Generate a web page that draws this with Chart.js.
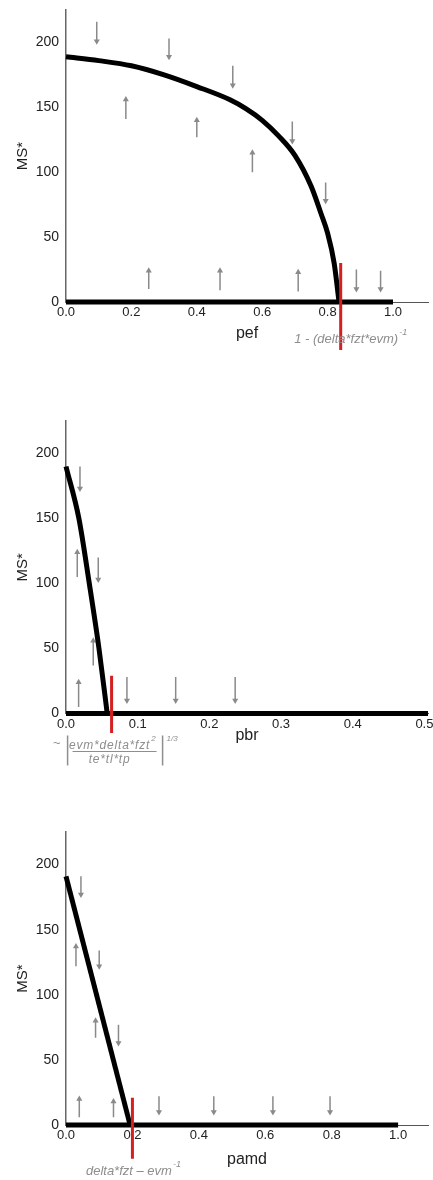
<!DOCTYPE html>
<html>
<head>
<meta charset="utf-8">
<script src="https://cdn.jsdelivr.net/npm/chart.js@4/dist/chart.umd.min.js"></script>
<style>
  body { margin: 0; background: #fff; width: 433px; height: 1180px; position: relative; overflow: hidden; }
  canvas { position: absolute; left: 0; }
</style>
</head>
<body>
<canvas id="pefChart" width="433" height="365" style="top:0"></canvas>
<canvas id="pbrChart" width="433" height="400" style="top:370px"></canvas>
<canvas id="pamdChart" width="433" height="395" style="top:785px"></canvas>
<script>
// shared y axis
var msTicks = [0, 50, 100, 150, 200];
var msMax = 225;

// pef panel
var pefTicks = [0, 0.2, 0.4, 0.6, 0.8, 1.0];
var pefCurveX = [0, 0.1, 0.2, 0.3, 0.4, 0.5, 0.55, 0.6, 0.65, 0.7, 0.75, 0.78, 0.8, 0.82, 0.835];
var pefCurveY = [189, 186, 182, 175, 166, 156, 149, 140, 128, 113, 89, 68, 53, 30, 0];
var pefZeroX = [0, 1.0];
var pefThreshold = 0.84;
var pefMarkY = [30, -37];
var pefArrowX = [0.094, 0.315, 0.51, 0.692, 0.794, 0.888, 0.962, 0.183, 0.40, 0.57, 0.253, 0.471, 0.71];
var pefArrowFrom = [216, 203, 182, 139, 92, 25, 24, 141, 127, 100, 10, 9, 8];
var pefArrowTo = [201, 189, 167, 124, 78, 10, 10, 156, 140, 115, 24, 24, 23];

// pbr panel
var pbrTicks = [0, 0.1, 0.2, 0.3, 0.4, 0.5];
var pbrCurveX = [0, 0.018, 0.0325, 0.046, 0.0575];
var pbrCurveY = [190, 150, 100, 50, 0];
var pbrZeroX = [0, 0.505];
var pbrThreshold = 0.0636;
var pbrMarkY = [29, -15];
var pbrArrowX = [0.0195, 0.0157, 0.045, 0.038, 0.0176, 0.085, 0.153, 0.236];
var pbrArrowFrom = [190, 105, 120, 37, 5, 28, 28, 28];
var pbrArrowTo = [173, 124, 103, 56, 24, 10, 10, 10];

// pamd panel
var pamdTicks = [0, 0.2, 0.4, 0.6, 0.8, 1.0];
var pamdCurveX = [0, 0.193];
var pamdCurveY = [191, 0];
var pamdZeroX = [0, 1.0];
var pamdThreshold = 0.2;
var pamdMarkY = [21, -26];
var pamdArrowX = [0.045, 0.030, 0.1, 0.089, 0.158, 0.040, 0.143, 0.28, 0.445, 0.623, 0.795];
var pamdArrowFrom = [191, 122, 134, 67, 77, 6, 6, 22, 22, 22, 22];
var pamdArrowTo = [177, 137, 122, 80, 63, 20, 18, 10, 10, 10, 10];

Chart.defaults.font.family = '"Liberation Sans", Arial, sans-serif';
Chart.defaults.color = '#222';

var GREY = '#8a8a8a';
var FORMULA = '#8e8e8e';

function toPoints(xs, ys) {
  return xs.map(function (x, i) { return {x: x, y: ys[i]}; });
}

// each arrow is tail -> head, broken off from the next by a null point
function arrowPoints(xs, from, to) {
  var pts = [];
  xs.forEach(function (x, i) {
    pts.push({x: x, y: from[i]});
    pts.push({x: x, y: to[i], head: true, rot: to[i] > from[i] ? 0 : 180});
    pts.push({x: x, y: null});
  });
  return pts;
}

function italic(ctx, size) {
  ctx.font = 'italic ' + size + 'px "Liberation Sans", Arial, sans-serif';
}

// text with a trailing superscript, centred on cx
function supText(ctx, cx, cy, main, sup) {
  italic(ctx, 13);
  var w = ctx.measureText(main).width;
  italic(ctx, 9);
  var ws = ctx.measureText(sup).width;
  var x0 = cx - (w + ws + 1) / 2;
  ctx.textAlign = 'left';
  ctx.textBaseline = 'middle';
  italic(ctx, 13);
  ctx.fillText(main, x0, cy);
  italic(ctx, 9);
  ctx.fillText(sup, x0 + w + 1, cy - 7);
}

function formulaPlugin(drawFn) {
  return {
    id: 'formula',
    afterDraw: function (chart) {
      var ctx = chart.ctx;
      var xs = chart.scales.x;
      var rx = xs.getPixelForValue(chart.options.threshold);
      ctx.save();
      ctx.fillStyle = FORMULA;
      ctx.strokeStyle = FORMULA;
      drawFn(ctx, rx);
      ctx.restore();
    }
  };
}

function panelChart(id, p) {
  var ctx = document.getElementById(id).getContext('2d');
  return new Chart(ctx, {
    type: 'scatter',
    data: {
      datasets: [
        {
          data: toPoints([p.threshold, p.threshold], p.markY),
          showLine: true, borderColor: '#d42020', borderWidth: 3,
          pointRadius: 0, clip: false
        },
        {
          data: toPoints(p.curveX, p.curveY),
          showLine: true, borderColor: '#000', borderWidth: 5,
          cubicInterpolationMode: 'monotone',
          pointRadius: 0, clip: false
        },
        {
          data: toPoints(p.zeroX, [0, 0]),
          showLine: true, borderColor: '#000', borderWidth: 5,
          pointRadius: 0, clip: false
        },
        {
          data: arrowPoints(p.arrowX, p.arrowFrom, p.arrowTo),
          showLine: true, spanGaps: false,
          borderColor: GREY, borderWidth: 1.5,
          pointStyle: 'triangle',
          pointRadius: function (c) { return c.raw && c.raw.head ? 3.5 : 0; },
          pointRotation: function (c) { return (c.raw && c.raw.rot) || 0; },
          pointBackgroundColor: GREY, pointBorderWidth: 0,
          clip: false
        }
      ]
    },
    options: {
      responsive: false,
      animation: false,
      events: [],
      devicePixelRatio: 1,
      threshold: p.threshold,
      layout: {padding: {top: p.top, right: 5, bottom: 0, left: 0}},
      plugins: {legend: {display: false}, tooltip: {enabled: false}},
      scales: {
        x: {
          type: 'linear', min: 0, max: p.xMax,
          afterBuildTicks: function (axis) {
            axis.ticks = p.xTicks.map(function (v) { return {value: v}; });
          },
          afterFit: function (axis) {
            axis.height = p.xHeight;
            axis.paddingLeft = 0;
            axis.paddingRight = 0;
          },
          grid: {display: false, drawTicks: false},
          border: {display: true, color: '#555', width: 1},
          ticks: {
            padding: 3, color: '#222', font: {size: 13}, autoSkip: false, maxRotation: 0,
            callback: function (v) { return Number(v).toFixed(1); }
          },
          title: {
            display: true, text: p.xTitle, color: '#222', font: {size: 16},
            padding: {top: 0, bottom: p.titlePad}
          }
        },
        y: {
          type: 'linear', min: 0, max: msMax,
          afterBuildTicks: function (axis) {
            axis.ticks = msTicks.map(function (v) { return {value: v}; });
          },
          afterFit: function (axis) {
            axis.width = 66;
            axis.paddingTop = 0;
            axis.paddingBottom = 0;
          },
          grid: {display: false, drawTicks: false},
          border: {display: true, color: '#666', width: 1.5},
          ticks: {padding: 7, color: '#222', font: {size: 14}},
          title: {
            display: true, text: 'MS*', color: '#222', font: {size: 15},
            padding: {top: 14, bottom: 0}
          }
        }
      }
    },
    plugins: [formulaPlugin(p.formula)]
  });
}

panelChart('pefChart', {
  top: 10, xHeight: 63, titlePad: 22, xMax: 1.107, xTitle: 'pef',
  xTicks: pefTicks, curveX: pefCurveX, curveY: pefCurveY, zeroX: pefZeroX,
  threshold: pefThreshold, markY: pefMarkY,
  arrowX: pefArrowX, arrowFrom: pefArrowFrom, arrowTo: pefArrowTo,
  formula: function (ctx, rx) {
    supText(ctx, rx + 10, 339, '1 - (delta*fzt*evm)', '-1');
  }
});

panelChart('pbrChart', {
  top: 51, xHeight: 56.5, titlePad: 25, xMax: 0.505, xTitle: 'pbr',
  xTicks: pbrTicks, curveX: pbrCurveX, curveY: pbrCurveY, zeroX: pbrZeroX,
  threshold: pbrThreshold, markY: pbrMarkY,
  arrowX: pbrArrowX, arrowFrom: pbrArrowFrom, arrowTo: pbrArrowTo,
  formula: function (ctx, rx) {
    var y0 = 381.5;
    ctx.textBaseline = 'middle';
    ctx.textAlign = 'center';
    italic(ctx, 13);
    ctx.fillText('~', rx - 55, y0 - 8);
    // numerator, bar, denominator
    italic(ctx, 12);
    var num = 'evm*delta*fzt';
    ctx.letterSpacing = '0.8px';
    var wn = ctx.measureText(num).width;
    ctx.textAlign = 'left';
    ctx.fillText(num, rx + 1 - wn / 2 - 3, y0 - 6);
    italic(ctx, 8);
    ctx.fillText('2', rx + 1 + wn / 2 - 2, y0 - 13);
    italic(ctx, 12);
    ctx.textAlign = 'center';
    ctx.fillText('te*tl*tp', rx - 2, y0 + 8);
    ctx.letterSpacing = '0px';
    ctx.lineWidth = 1;
    ctx.beginPath();
    ctx.moveTo(rx - 39, y0); ctx.lineTo(rx + 45, y0);
    ctx.stroke();
    // absolute value bars and the cube root
    ctx.lineWidth = 1.5;
    ctx.beginPath();
    ctx.moveTo(rx - 44, y0 - 16); ctx.lineTo(rx - 44, y0 + 14);
    ctx.moveTo(rx + 51, y0 - 16); ctx.lineTo(rx + 51, y0 + 14);
    ctx.stroke();
    italic(ctx, 8);
    ctx.textAlign = 'left';
    ctx.fillText('1/3', rx + 55, y0 - 13);
  }
});

panelChart('pamdChart', {
  top: 47, xHeight: 55, titlePad: 11, xMax: 1.09, xTitle: 'pamd',
  xTicks: pamdTicks, curveX: pamdCurveX, curveY: pamdCurveY, zeroX: pamdZeroX,
  threshold: pamdThreshold, markY: pamdMarkY,
  arrowX: pamdArrowX, arrowFrom: pamdArrowFrom, arrowTo: pamdArrowTo,
  formula: function (ctx, rx) {
    supText(ctx, rx + 1, 386, 'delta*fzt \u2013 evm', '-1');
  }
});
</script>
</body>
</html>
